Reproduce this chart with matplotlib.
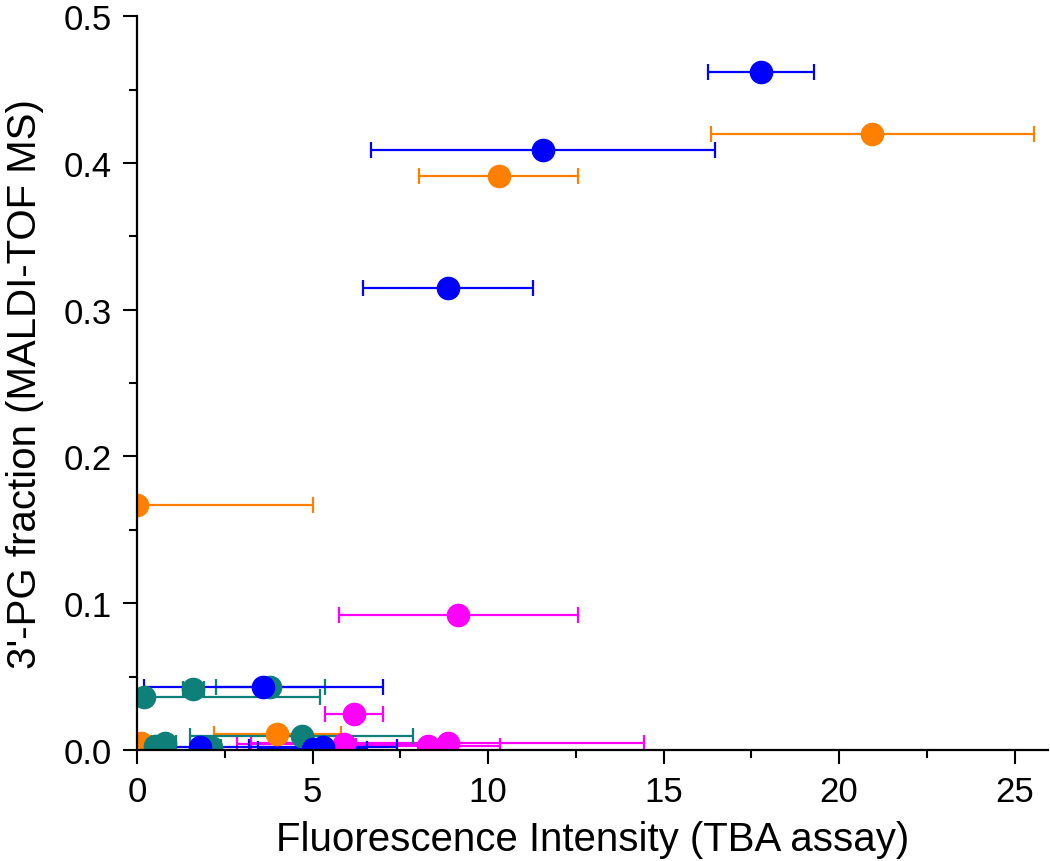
import matplotlib
matplotlib.use("Agg")
import matplotlib.pyplot as plt

plt.rcParams["font.family"] = ["Liberation Sans", "DejaVu Sans"]

# each group: x (fluorescence), y (3'-PG fraction), x error
orange_x = [20.94, 10.3, 0.0, 0.1, 4.0]
orange_y = [0.420, 0.391, 0.167, 0.005, 0.011]
orange_xerr = [4.6, 2.27, 5.0, 0.3, 1.8]

magenta_x = [9.15, 6.18, 5.9, 8.3, 8.85]
magenta_y = [0.092, 0.0245, 0.004, 0.003, 0.005]
magenta_xerr = [3.4, 0.82, 3.05, 2.05, 5.6]

teal_x = [0.2, 1.6, 3.8, 0.5, 0.8, 2.1, 4.69]
teal_y = [0.036, 0.0415, 0.043, 0.003, 0.005, 0.002, 0.0095]
teal_xerr = [5.0, 0.3, 1.55, 0.3, 0.3, 0.3, 3.18]

blue_x = [17.78, 11.57, 8.86, 3.6, 1.8, 5.3, 5.0]
blue_y = [0.462, 0.409, 0.315, 0.043, 0.002, 0.002, 0.001]
blue_xerr = [1.5, 4.9, 2.42, 3.4, 2.15, 2.1, 1.55]

groups = [
    (orange_x, orange_y, orange_xerr, "#FF8000"),
    (magenta_x, magenta_y, magenta_xerr, "#FF00FF"),
    (teal_x, teal_y, teal_xerr, "#0F7F7A"),
    (blue_x, blue_y, blue_xerr, "#0000FF"),
]

fig = plt.figure(figsize=(10.5, 8.62), dpi=100)
ax = fig.add_axes([0.1305, 0.1288, 0.8675, 0.8512])

for xs, ys, xe, col in groups:
    ax.errorbar(xs, ys, xerr=xe, fmt="o", color=col, ms=16, mec=col,
                elinewidth=1.6, capsize=6, capthick=1.6)

ax.set_xlim(0, 25.95)
ax.set_ylim(0, 0.5)
ax.set_xticks([0, 5, 10, 15, 20, 25])
ax.set_xticks([2.5, 7.5, 12.5, 17.5, 22.5], minor=True)
ax.set_yticks([0.0, 0.1, 0.2, 0.3, 0.4, 0.5])
ax.set_yticks([0.05, 0.15, 0.25, 0.35, 0.45], minor=True)
ax.set_yticklabels(["0.0", "0.1", "0.2", "0.3", "0.4", "0.5"])

for s in ["top", "right"]:
    ax.spines[s].set_visible(False)
for s in ["left", "bottom"]:
    ax.spines[s].set_linewidth(1.6)

ax.tick_params(which="major", direction="out", length=10, width=1.5,
               labelsize=25, pad=8)
ax.tick_params(which="minor", direction="out", length=6, width=1.5)
ax.set_xlabel("Fluorescence Intensity (TBA assay)", fontsize=29, labelpad=9)
ax.set_ylabel("3'-PG fraction (MALDI-TOF MS)", fontsize=29, labelpad=14)

fig.savefig("out.png", dpi=100)
